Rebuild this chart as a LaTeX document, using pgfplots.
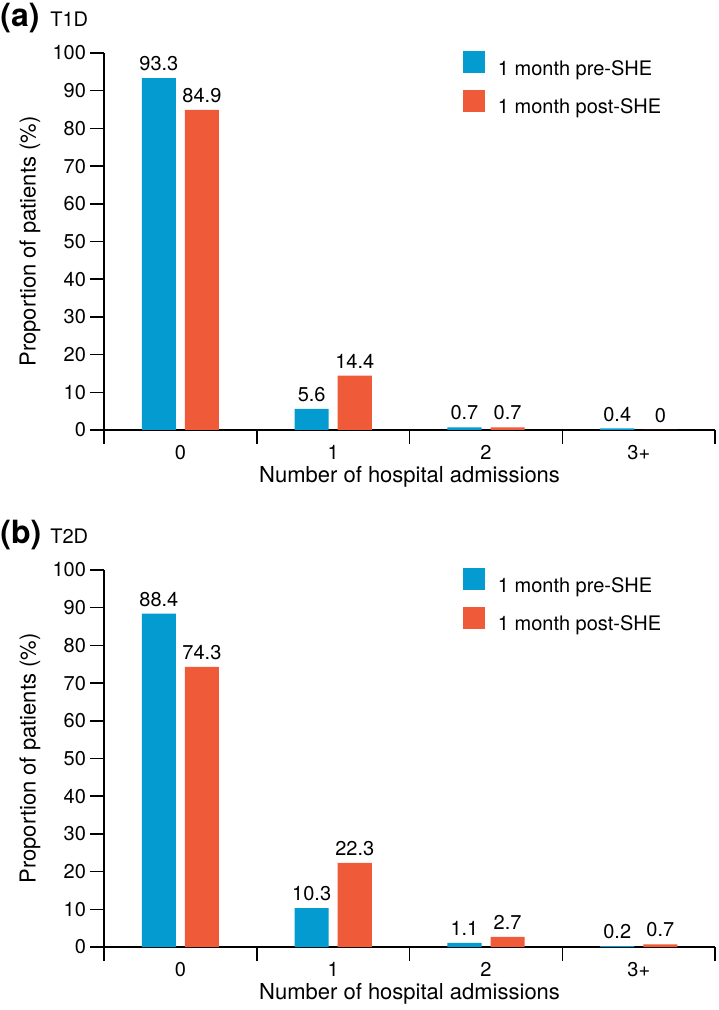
\documentclass[border=0pt]{standalone}
\usepackage{fontspec}
\setmainfont{TeX Gyre Heros}
\usepackage{pgfplots}
\pgfplotsset{compat=1.18}
\definecolor{cblue}{RGB}{3,155,208}
\definecolor{corange}{RGB}{239,90,56}

\pgfplotsset{
  panel/.style={
    at={#1}, anchor=south west,
    x=76.4pt, y=1.885pt,
    xmin=-0.5, xmax=3.5, ymin=0, ymax=100,
    axis x line=bottom, axis y line=left,
    axis line style={-, line width=0.75pt, black},
    every tick/.style={black, line width=0.75pt},
    tick align=outside,
    major tick length=7pt,
    ytick={0,10,...,100},
    xtick={-0.5,0.5,1.5,2.5,3.5},
    xticklabels={},
    extra x ticks={0,1,2,3},
    extra x tick labels={0,1,2,3+},
    extra x tick style={major tick length=0pt, xticklabel style={yshift=-4pt}},
    /pgf/number format/assume math mode=true,
    tick label style={font=\fontsize{10}{12}\selectfont},
    yticklabel style={xshift=1.5pt},
    every axis y label/.style={at={(axis description cs:0,0.5)}, xshift=-37pt, rotate=90, anchor=center, font=\fontsize{11}{13}\selectfont},
    every axis x label/.style={at={(axis description cs:0.5,0)}, yshift=-23.5pt, anchor=center, font=\fontsize{11}{13}\selectfont},
    xlabel={Number of hospital admissions},
    ylabel={Proportion of patients (\%)},
    ybar,
    bar width=0.223,
    point meta=explicit symbolic,
    nodes near coords,
    every node near coord/.append style={font=\fontsize{10}{12}\selectfont, black},
    legend style={at={(axis description cs:0.586,1)}, anchor=north west, yshift=1pt,
      draw=none, fill=none, inner sep=0pt, row sep=3.6pt, column sep=4.7pt,
      font=\fontsize{10}{12}\selectfont},
    legend cell align=left,
    legend image code/.code={\fill[##1] (0pt,-1.9pt) rectangle (11pt,9.1pt);},
  },
  pre/.style={fill=cblue, draw=none, bar shift=-0.141},
  post/.style={fill=corange, draw=none, bar shift=0.141},
}

\begin{document}
\begin{tikzpicture}
\useasboundingbox (0,0) rectangle (359pt,505pt);

\begin{axis}[panel={(52pt,290pt)}]
\addplot[pre] coordinates {(0,93.3)[93.3] (1,5.6)[5.6] (2,0.7)[0.7] (3,0.4)[0.4]};
\addplot[post] coordinates {(0,84.9)[84.9] (1,14.4)[14.4] (2,0.7)[0.7] (3,0)[0]};
\legend{1 month pre-SHE, 1 month post-SHE}
\end{axis}

\begin{axis}[panel={(52pt,31.5pt)}]
\addplot[pre] coordinates {(0,88.4)[88.4] (1,10.3)[10.3] (2,1.1)[1.1] (3,0.2)[0.2]};
\addplot[post] coordinates {(0,74.3)[74.3] (1,22.3)[22.3] (2,2.7)[2.7] (3,0.7)[0.7]};
\legend{1 month pre-SHE, 1 month post-SHE}
\end{axis}

\node[anchor=base west, inner sep=0pt, font=\bfseries\fontsize{16}{18}\selectfont] at (0pt,491.5pt) {(a)};
\node[anchor=base west, inner sep=0pt, font=\fontsize{10}{12}\selectfont] at (25pt,491.5pt) {T1D};
\node[anchor=base west, inner sep=0pt, font=\bfseries\fontsize{16}{18}\selectfont] at (0pt,233pt) {(b)};
\node[anchor=base west, inner sep=0pt, font=\fontsize{10}{12}\selectfont] at (25pt,233pt) {T2D};
\end{tikzpicture}
\end{document}
